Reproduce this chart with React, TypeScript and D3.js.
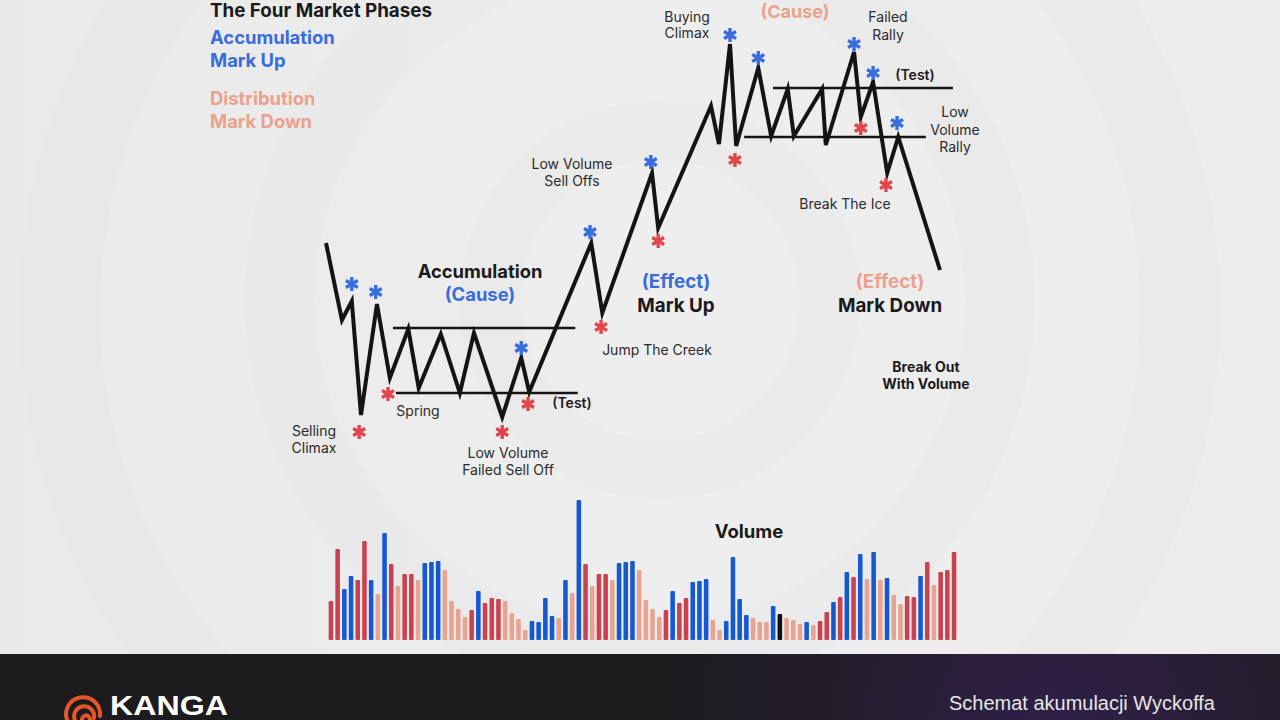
import React from "react";
import * as d3 from "d3";

const W = 1280;
const H = 720;

// price path (time units, price units)
const priceTime = [0, 2.6, 4.2, 5.7, 8.3, 10.4, 13.4, 15.1, 18.7, 21.8, 24.1, 28.7, 31.8, 33.1, 43.2, 45, 53.1, 54.1, 62.7, 64, 65.8, 66.8, 70.4, 72.5, 75.2, 76.2, 80.8, 81.4, 86, 87.1, 89.1, 91.4, 93.2, 100];
const priceLevel = [46.75, 27.5, 32.25, 3.75, 31.5, 13, 25.25, 10.5, 24, 9.25, 24.25, 3.25, 18, 9.5, 46.75, 29.25, 64.25, 50.5, 81, 71.5, 96.5, 71, 90.5, 73.5, 85.25, 73.5, 85.25, 71.25, 94.5, 78.25, 87, 64.25, 73.25, 40];

// support / resistance ranges: [tStart, tEnd, price]
const rangeLines = [
  [10.9, 40.6, 25.5],
  [11.4, 41.0, 9.25],
  [72.8, 102.1, 85.5],
  [68.1, 97.7, 73.25],
];

// asterisk markers
const blueStarTime = [4.2, 8.1, 31.8, 43, 52.9, 65.8, 70.4, 86, 89.1, 93];
const blueStarLevel = [36.5, 34.5, 20.5, 49.5, 67, 98.75, 93, 96.5, 89.25, 76.75];
const redStarTime = [5.4, 10.1, 28.7, 32.9, 44.8, 54.1, 66.6, 87.1, 91.2];
const redStarLevel = [-0.5, 9, -0.5, 6.5, 25.75, 47.25, 67.5, 75.5, 61.25];

// volume
const volumeValues = [39, 91, 51, 64, 60, 99, 60, 46, 107, 76, 54, 66, 66, 60, 77, 78, 79, 70, 39, 31, 23, 30, 49, 37, 42, 41, 39, 27, 21, 10, 19, 18, 42, 24, 22, 60, 47, 140, 76, 54, 66, 66, 60, 77, 78, 79, 70, 40, 31, 23, 30, 49, 37, 42, 58, 59, 61, 20, 10, 19, 83, 41, 25, 22, 18, 18, 34, 26, 22, 20, 16, 18, 15, 19, 28, 38, 43, 68, 63, 86, 61, 88, 60, 62, 45, 36, 44, 43, 64, 78, 55, 68, 70, 88];
const volumeKinds = "RRBBRRBSBRSRRSBBBSSSSRBRRRSSSSBBBBSBSBRSRRSBBBSSSSRBRRBBBSSBBBBSSSBKSSSBSRRBRBRBSBSBSSRRBRSRRR".split("");

const BLUE = "#3a6ddc";
const RED = "#e0464c";
const SALMON = "#eba28d";
const INK = "#141414";
const kindColor: Record<string, string> = {
  B: "#1559d2",
  R: "#c9424f",
  S: "#e8a391",
  K: "#111111",
};

const FONT = "Inter, 'Noto Sans', sans-serif";

const x = d3.scaleLinear().domain([0, 100]).range([326, 940]);
const y = d3.scaleLinear().domain([0, 100]).range([430, 30]);

const vx = d3
  .scaleBand<number>()
  .domain(d3.range(volumeValues.length))
  .range([327.6, 957.4])
  .paddingInner(0.32)
  .paddingOuter(0.16);
const vy = d3.scaleLinear().domain([0, 140]).range([640, 500]);

const pricePts: [number, number][] = priceTime.map((t, i) => [t, priceLevel[i]]);
const line = d3
  .line<[number, number]>()
  .x((d) => x(d[0]))
  .y((d) => y(d[1]));

const star = d3.symbol().type(d3.symbolAsterisk).size(135)();

const Label = ({ cx, cy, lines, size = 14, weight = 400, color = "#2b2b2b", gap = 17, anchor = "middle" }: any) => (
  <text
    x={cx}
    y={cy}
    textAnchor={anchor}
    fontFamily={FONT}
    fontSize={size}
    fontWeight={weight}
    fill={color}
  >
    {lines.map((l: string, i: number) => (
      <tspan key={i} x={cx} y={cy + i * gap} dy="0.36em">
        {l}
      </tspan>
    ))}
  </text>
);

export default function App() {
  return (
    <svg
      width={W}
      height={H}
      viewBox={`0 0 ${W} ${H}`}
      style={{ position: "absolute", left: 0, top: 0 }}
    >
      <defs>
        <linearGradient id="bg" x1="0" y1="0" x2="1" y2="0">
          <stop offset="0" stopColor="#e9e9e9" />
          <stop offset="0.5" stopColor="#eeeeee" />
          <stop offset="1" stopColor="#ececec" />
        </linearGradient>
        <radialGradient id="foot" gradientUnits="userSpaceOnUse" cx={1060} cy={740} r={420}>
          <stop offset="0" stopColor="#30204a" />
          <stop offset="0.55" stopColor="#241d2c" />
          <stop offset="1" stopColor="#1c1b1d" />
        </radialGradient>
      </defs>

      <rect width={W} height={H} fill="url(#bg)" />
      {/* faint swirl watermark */}
      <g fill="none" stroke="#e3e3e3" strokeOpacity={0.2}>
        <circle cx={660} cy={300} r={170} strokeWidth={60} />
        <circle cx={640} cy={300} r={360} strokeWidth={70} />
        <circle cx={620} cy={310} r={560} strokeWidth={80} />
      </g>

      {/* legend */}
      <Label cx={210} cy={10} anchor="start" lines={["The Four Market Phases"]} size={18.8} weight={700} color="#1a1a1a" />
      <Label cx={210} cy={37} anchor="start" lines={["Accumulation", "Mark Up"]} size={18.4} weight={700} color={BLUE} gap={23.5} />
      <Label cx={210} cy={98} anchor="start" lines={["Distribution", "Mark Down"]} size={18.4} weight={700} color={SALMON} gap={23.5} />

      {/* range lines */}
      {rangeLines.map((r, i) => (
        <line key={i} x1={x(r[0])} x2={x(r[1])} y1={y(r[2])} y2={y(r[2])} stroke={INK} strokeWidth={2.6} />
      ))}

      {/* price path */}
      <path d={line(pricePts) ?? ""} fill="none" stroke={INK} strokeWidth={4} strokeLinejoin="miter" strokeMiterlimit={5} />

      {/* stars */}
      {blueStarTime.map((t, i) => (
        <path key={"b" + i} d={star ?? ""} transform={`translate(${x(t)},${y(blueStarLevel[i])})`} stroke={BLUE} strokeWidth={3.4} fill="none" />
      ))}
      {redStarTime.map((t, i) => (
        <path key={"r" + i} d={star ?? ""} transform={`translate(${x(t)},${y(redStarLevel[i])})`} stroke={RED} strokeWidth={3.4} fill="none" />
      ))}

      {/* annotations */}
      <Label cx={795} cy={11.5} lines={["(Cause)"]} size={18} weight={700} color={SALMON} />
      <Label cx={687} cy={17} lines={["Buying", "Climax"]} gap={15.5} />
      <Label cx={888} cy={17} lines={["Failed", "Rally"]} gap={18} />
      <Label cx={915} cy={75} lines={["(Test)"]} size={14} weight={600} color="#1a1a1a" />
      <Label cx={955} cy={112} lines={["Low", "Volume", "Rally"]} gap={17.5} />
      <Label cx={845} cy={204} lines={["Break The Ice"]} />
      <Label cx={572} cy={164} lines={["Low Volume", "Sell Offs"]} />
      <Label cx={676} cy={281} lines={["(Effect)"]} size={18.8} weight={700} color={BLUE} />
      <Label cx={676} cy={305} lines={["Mark Up"]} size={18.8} weight={700} color="#1a1a1a" />
      <Label cx={657} cy={350} lines={["Jump The Creek"]} />
      <Label cx={890} cy={281} lines={["(Effect)"]} size={18.8} weight={700} color={SALMON} />
      <Label cx={890} cy={305} lines={["Mark Down"]} size={18.8} weight={700} color="#1a1a1a" />
      <Label cx={926} cy={367} lines={["Break Out", "With Volume"]} size={14} weight={700} color="#1a1a1a" />
      <Label cx={480} cy={271} lines={["Accumulation"]} size={18.4} weight={700} color="#1a1a1a" />
      <Label cx={480} cy={294} lines={["(Cause)"]} size={18.4} weight={700} color={BLUE} />
      <Label cx={314} cy={431} lines={["Selling", "Climax"]} />
      <Label cx={418} cy={411} lines={["Spring"]} />
      <Label cx={508} cy={453} lines={["Low Volume", "Failed Sell Off"]} />
      <Label cx={572} cy={403} lines={["(Test)"]} size={14} weight={600} color="#1a1a1a" />
      <Label cx={749} cy={531} lines={["Volume"]} size={18.5} weight={700} color="#1a1a1a" />

      {/* volume bars */}
      {volumeValues.map((v, i) => (
        <rect
          key={i}
          x={vx(i)}
          y={vy(v)}
          width={vx.bandwidth()}
          height={vy(0) - vy(v)}
          rx={1}
          fill={kindColor[volumeKinds[i]]}
        />
      ))}

      {/* footer */}
      <rect x={0} y={654} width={W} height={H - 654} fill="url(#foot)" />
      <g fill="none" stroke="#e5562b" strokeWidth={4} strokeLinecap="round">
        <path d="M 68 722 A 17 17 0 1 1 100 716" />
        <path d="M 76 722 A 10 10 0 1 1 94 718" />
        <path d="M 83 722 A 4 4 0 1 1 90 720" />
      </g>
      <text x={110} y={715} fontFamily="'Liberation Sans Narrow', 'Liberation Sans', sans-serif" fontSize={27} fontWeight={700} fill="#ffffff" textLength={118} lengthAdjust="spacingAndGlyphs">
        KANGA
      </text>
      <text x={949} y={710} fontFamily="'Liberation Sans Narrow', 'Liberation Sans', sans-serif" fontSize={20} fill="#e6e6e6" textLength={266} lengthAdjust="spacingAndGlyphs">
        Schemat akumulacji Wyckoffa
      </text>
    </svg>
  );
}
